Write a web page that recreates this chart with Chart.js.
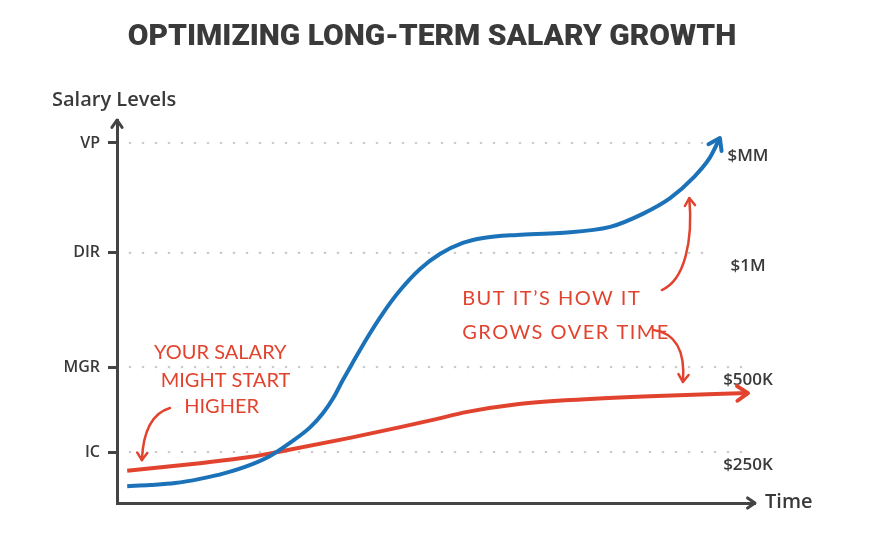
<!DOCTYPE html>
<html>
<head>
<meta charset="utf-8">
<script src="https://cdn.jsdelivr.net/npm/chart.js@4/dist/chart.umd.min.js"></script>
<style>
  body { margin: 0; background: #fff; }
  #wrap { width: 880px; height: 540px; }
</style>
</head>
<body>
<div id="wrap"><canvas id="salary-chart" width="880" height="540"></canvas></div>
<script>
//---------data-------------------------------------------------------------------------------------------

const levelLabels = ['IC', 'MGR', 'DIR', 'VP'];
const levelValues = [13.3, 35.5, 65.3, 94.0];
const payLabels = ['$250K', '$500K', '$1M', '$MM'];

// blue: slow start, big jump, then keeps climbing
const blueTime = [1.6, 5.2, 9.1, 13.0, 16.9, 20.8, 24.0, 27.1, 30.3, 32.3, 33.9, 35.4, 37.0, 39.2, 41.7, 44.4, 47.5, 50.6, 54.2, 57.4, 62.7, 69.4, 77.3, 82.4, 86.7, 90.3, 92.9, 94.5];
const blueLevel = [4.4, 4.7, 5.2, 6.3, 7.8, 9.9, 12.3, 15.7, 19.8, 23.5, 27.4, 32.1, 36.8, 43.1, 49.6, 55.6, 61.1, 65.0, 67.9, 69.2, 70.0, 70.5, 72.1, 75.5, 79.6, 84.9, 90.1, 95.3];

// red: higher start, flattens out
const redTime = [1.6, 13, 20.8, 26, 36.5, 44.4, 49.5, 54.9, 62.7, 71, 83.5, 98.9];
const redLevel = [8.4, 10.4, 12.0, 13.6, 17.0, 19.8, 21.7, 23.8, 25.8, 26.9, 27.9, 28.7];

const blue = '#1c72b8';
const red = '#e2432f';
const ink = '#3a3a3a';

function toPoints(xs, ys) {
  return xs.map((x, i) => ({ x: x, y: ys[i] }));
}

function head(ctx, x, y, angle, len, color, width) {
  ctx.save();
  ctx.strokeStyle = color;
  ctx.lineWidth = width;
  ctx.lineCap = 'round';
  ctx.lineJoin = 'round';
  ctx.beginPath();
  ctx.moveTo(x - len * Math.cos(angle - 0.6), y - len * Math.sin(angle - 0.6));
  ctx.lineTo(x, y);
  ctx.lineTo(x - len * Math.cos(angle + 0.6), y - len * Math.sin(angle + 0.6));
  ctx.stroke();
  ctx.restore();
}

//---------extras: dotted levels, arrows, notes------------------------------------------------------------

const extras = {
  id: 'extras',
  beforeDatasetsDraw(chart) {
    const ctx = chart.ctx;
    const xs = chart.scales.x;
    const ys = chart.scales.y;
    ctx.save();
    ctx.strokeStyle = '#c8c8c8';
    ctx.lineWidth = 2.2;
    ctx.lineCap = 'round';
    ctx.setLineDash([0.5, 12.5]);
    levelValues.forEach((v, i) => {
      const y = ys.getPixelForValue(v);
      const end = i >= 2 ? 92.2 : 98.9;
      ctx.beginPath();
      ctx.moveTo(xs.getPixelForValue(2), y);
      ctx.lineTo(xs.getPixelForValue(end), y);
      ctx.stroke();
    });
    ctx.restore();
  },
  afterDraw(chart) {
    const ctx = chart.ctx;
    const xs = chart.scales.x;
    const ys = chart.scales.y;
    const area = chart.chartArea;
    const P = (x, y) => [xs.getPixelForValue(x), ys.getPixelForValue(y)];

    // axis arrows
    head(ctx, area.left, area.top, -Math.PI / 2, 9, '#444', 3);
    head(ctx, area.right, area.bottom, 0, 9, '#444', 3);

    // labels
    ctx.save();
    ctx.fillStyle = ink;
    ctx.textBaseline = 'middle';
    ctx.font = '600 20px "Open Sans"';
    ctx.textAlign = 'left';
    ctx.fillText('Salary Levels', 52, 100);
    ctx.fillText('Time', area.right + 10, area.bottom - 1);
    ctx.font = '600 17px "Open Sans"';
    ctx.textAlign = 'center';
    payLabels.forEach((t, i) => {
      ctx.fillText(t, area.right - 7, ys.getPixelForValue(levelValues[i]) + 13);
    });
    ctx.restore();

    // line end arrows
    chart.data.datasets.forEach((ds, i) => {
      const pts = chart.getDatasetMeta(i).data;
      const a = pts[pts.length - 1];
      const b = pts[pts.length - 2];
      const ang = Math.atan2(a.y - b.y, a.x - b.x);
      head(ctx, a.x, a.y, ang, 13, ds.borderColor, 4);
    });

    // handwritten notes
    ctx.save();
    ctx.fillStyle = red;
    ctx.strokeStyle = red;
    ctx.textBaseline = 'middle';
    ctx.textAlign = 'center';
    ctx.font = '20px Lato';
    let p = P(16.2, 39.4); ctx.fillText('YOUR SALARY', p[0], p[1]);
    p = P(17, 32.1); ctx.fillText('MIGHT START', p[0], p[1]);
    p = P(16.4, 25.1); ctx.fillText('HIGHER', p[0], p[1]);
    ctx.textAlign = 'left';
    ctx.letterSpacing = '1.5px';
    p = P(54.1, 53.5); ctx.fillText('BUT IT\u2019S HOW IT', p[0], p[1]);
    p = P(54.1, 44.6); ctx.fillText('GROWS OVER TIME', p[0], p[1]);
    ctx.letterSpacing = '0px';

    ctx.lineWidth = 2.5;
    ctx.lineCap = 'round';
    let s = P(8.3, 24.8), c = P(4.2, 22.8), e = P(3.9, 11.2);
    ctx.beginPath(); ctx.moveTo(s[0], s[1]); ctx.quadraticCurveTo(c[0], c[1], e[0], e[1]); ctx.stroke();
    head(ctx, e[0], e[1], Math.atan2(e[1] - c[1], e[0] - c[0]), 9, red, 2.5);

    s = P(85.4, 55.6); let c1 = P(89.0, 58.2), c2 = P(90.3, 68.6); e = P(89.7, 79.6);
    ctx.beginPath(); ctx.moveTo(s[0], s[1]); ctx.bezierCurveTo(c1[0], c1[1], c2[0], c2[1], e[0], e[1]); ctx.stroke();
    head(ctx, e[0], e[1], Math.atan2(e[1] - c2[1], e[0] - c2[0]), 9, red, 2.5);

    s = P(84.0, 45.2); c = P(89.3, 44.0); e = P(88.7, 31.6);
    ctx.beginPath(); ctx.moveTo(s[0], s[1]); ctx.quadraticCurveTo(c[0], c[1], e[0], e[1]); ctx.stroke();
    head(ctx, e[0], e[1], Math.atan2(e[1] - c[1], e[0] - c[0]), 9, red, 2.5);
    ctx.restore();
  }
};

//---------chart-------------------------------------------------------------------------------------------

const ctx = document.getElementById('salary-chart').getContext('2d');
const chart = new Chart(ctx, {
  type: 'line',
  data: {
    datasets: [{
      label: 'Fast growth',
      data: toPoints(blueTime, blueLevel),
      borderColor: blue,
      borderWidth: 4,
      cubicInterpolationMode: 'monotone',
      pointRadius: 0,
      clip: false
    }, {
      label: 'Higher start',
      data: toPoints(redTime, redLevel),
      borderColor: red,
      borderWidth: 4,
      cubicInterpolationMode: 'monotone',
      pointRadius: 0,
      clip: false
    }]
  },
  options: {
    responsive: false,
    animation: false,
    layout: { padding: { left: 0, right: 16, top: 0, bottom: 0 } },
    plugins: {
      legend: { display: false },
      tooltip: { enabled: false },
      title: {
        display: true,
        text: 'OPTIMIZING LONG-TERM SALARY GROWTH',
        color: ink,
        font: { family: 'Roboto', size: 30, weight: '900' },
        padding: { top: 19, bottom: 65 }
      }
    },
    scales: {
      x: {
        type: 'linear',
        min: 0,
        max: 100,
        grid: { display: false },
        ticks: { display: false },
        border: { display: true, color: '#444', width: 3 },
        afterFit: function(scale) { scale.height = 37; }
      },
      y: {
        type: 'linear',
        min: 0,
        max: 100,
        afterBuildTicks: function(scale) {
          scale.ticks = levelValues.map(v => ({ value: v }));
        },
        ticks: {
          color: ink,
          padding: 8,
          font: { family: 'Open Sans', size: 16, weight: '600' },
          callback: function(value) { return levelLabels[levelValues.indexOf(value)]; }
        },
        grid: { display: true, drawOnChartArea: false, drawTicks: true, tickLength: 9, tickWidth: 3, tickColor: '#444' },
        border: { display: true, color: '#444', width: 3 },
        afterFit: function(scale) { scale.width = 117; }
      },
      // empty right margin for the pay labels and the "Time" label
      yRight: {
        type: 'linear',
        position: 'right',
        min: 0,
        max: 100,
        grid: { display: false },
        ticks: { display: false },
        border: { display: false },
        afterFit: function(scale) { scale.width = 109; }
      }
    }
  },
  plugins: [extras]
});
</script>
</body>
</html>
